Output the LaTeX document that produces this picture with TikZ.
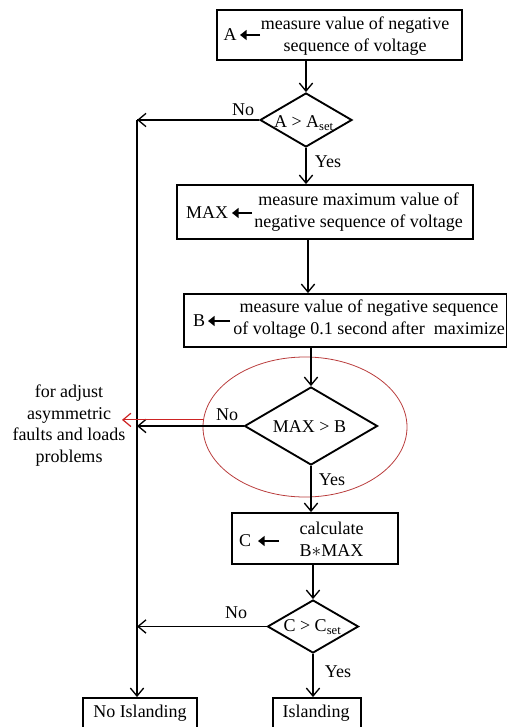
\documentclass[tikz,border=0pt]{standalone}
\usepackage{fontspec}
\setmainfont{Liberation Serif}
\usetikzlibrary{arrows.meta,shapes.geometric}
\definecolor{ellred}{RGB}{185,60,60}
\definecolor{arrred}{RGB}{205,35,35}
\begin{document}
\begin{tikzpicture}[x=0.75pt,y=-0.75pt,
  font=\fontsize{13.5pt}{16.5pt}\selectfont,
  boxst/.style={draw,line width=1.4pt,rectangle,inner sep=0pt},
  dia/.style={draw,line width=1.4pt,diamond,inner sep=0pt},
  flow/.style={line width=1pt,-{Straight Barb[length=6pt,width=10pt]}},
  lbl/.style={inner sep=0pt,align=center},
  into/.style={line width=2pt,-{Triangle[length=5pt,width=7.5pt]}}]
\clip (0,0) rectangle (508,727);
% boxes
\node[boxst,minimum width=183.75pt,minimum height=37.5pt] (boxA) at (339.5,35) {};
\node[boxst,minimum width=222pt,minimum height=40.5pt] (maxbox) at (325,212) {};
\node[boxst,minimum width=241.875pt,minimum height=39.75pt] (bbox) at (345.25,320.5) {};
\node[boxst,minimum width=124.5pt,minimum height=38.25pt] (cbox) at (315,538.5) {};
\node[boxst,minimum width=85.5pt,minimum height=31.5pt] (noisl) at (140,719) {};
\node[boxst,minimum width=66pt,minimum height=31.5pt] (isl) at (317,719) {};
% diamonds
\node[dia,minimum width=69pt,minimum height=40.5pt] (d1) at (306,120) {};
\node[dia,minimum width=99.75pt,minimum height=58.5pt] (d2) at (311,426) {};
\node[dia,minimum width=68.25pt,minimum height=39.75pt] (d3) at (313,626.5) {};
% red ellipse
\node[ellipse,draw=ellred,line width=0.6pt,minimum width=153pt,minimum height=105pt,inner sep=0pt] (ell) at (305,427) {};
% box contents
\node[lbl] (tA) at (355,36) {measure value of negative\\sequence of voltage};
\node[lbl] (lA) at (230,35) {A};
\coordinate (aA1) at (260,35); \coordinate (aA2) at (240,35);
\draw[into] (aA1) -- (aA2);
\node[lbl] (tMAX) at (358.5,212.5) {measure maximum value of\\negative sequence of voltage};
\node[lbl] (lMAX) at (207,213) {MAX};
\coordinate (aM1) at (252,213); \coordinate (aM2) at (232,213);
\draw[into] (aM1) -- (aM2);
\node[lbl] (tB) at (369,319.5) {measure value of negative sequence\\of voltage 0.1 second after\ \ maximize};
\node[lbl] (lB) at (199,321) {B};
\coordinate (aB1) at (230,321); \coordinate (aB2) at (208,321);
\draw[into] (aB1) -- (aB2);
\node[lbl] (tC) at (331.5,539.5) {calculate\\B$\ast$MAX};
\node[lbl] (lC) at (245,541) {C};
\coordinate (aC1) at (279,541); \coordinate (aC2) at (258,541);
\draw[into] (aC1) -- (aC2);
\node[lbl] (tD1) at (304,123) {A > A\textsubscript{set}};
\node[lbl] (tD2) at (309.5,427) {MAX > B};
\node[lbl] (tD3) at (312.5,627) {C > C\textsubscript{set}};
\node[lbl] (tNo) at (140,713) {No Islanding};
\node[lbl] (tIs) at (316,713) {Islanding};
% side note
\node[lbl,font=\fontsize{13.5pt}{16.3pt}\selectfont] (note) at (69,425.5) {for adjust\\asymmetric\\faults and loads\\problems};
% labels
\node[lbl] (no1) at (243,110) {No};
\node[lbl] (yes1) at (328,162) {Yes};
\node[lbl] (no2) at (227,415) {No};
\node[lbl] (yes2) at (332,480) {Yes};
\node[lbl] (no3) at (236,613) {No};
\node[lbl] (yes3) at (338,672) {Yes};
% connectors
\coordinate (lx) at (137,0);
\draw[flow] (boxA.south -| d1.north) -- (d1.north);
\draw[flow] (d1.south) -- (d1.south |- maxbox.north);
\coordinate (sMB) at (308,0);
\draw[flow] (maxbox.south -| sMB) -- (bbox.north -| sMB);
\draw[flow] (bbox.south -| d2.north) -- (d2.north);
\draw[flow] (d2.south) -- (d2.south |- cbox.north);
\draw[flow] (cbox.south -| d3.north) -- (d3.north);
\draw[flow] (d3.south) -- (d3.south |- isl.north);
\draw[line width=1pt] (d1.west) -- (d1.west -| lx);
\draw[flow] (d1.west -| lx) -- (noisl.north -| lx);
\draw[flow] (d1.west) -- (d1.west -| lx);
\draw[flow] (d2.west) -- (d2.west -| lx);
\draw[flow] (d3.west) -- (d3.west -| lx);
\coordinate (rt) at (122,0);
\draw[line width=0.9pt,draw=arrred,-{Straight Barb[length=6pt,width=10pt]}] (ell.176) -- (ell.176 -| rt);
\end{tikzpicture}
\end{document}
